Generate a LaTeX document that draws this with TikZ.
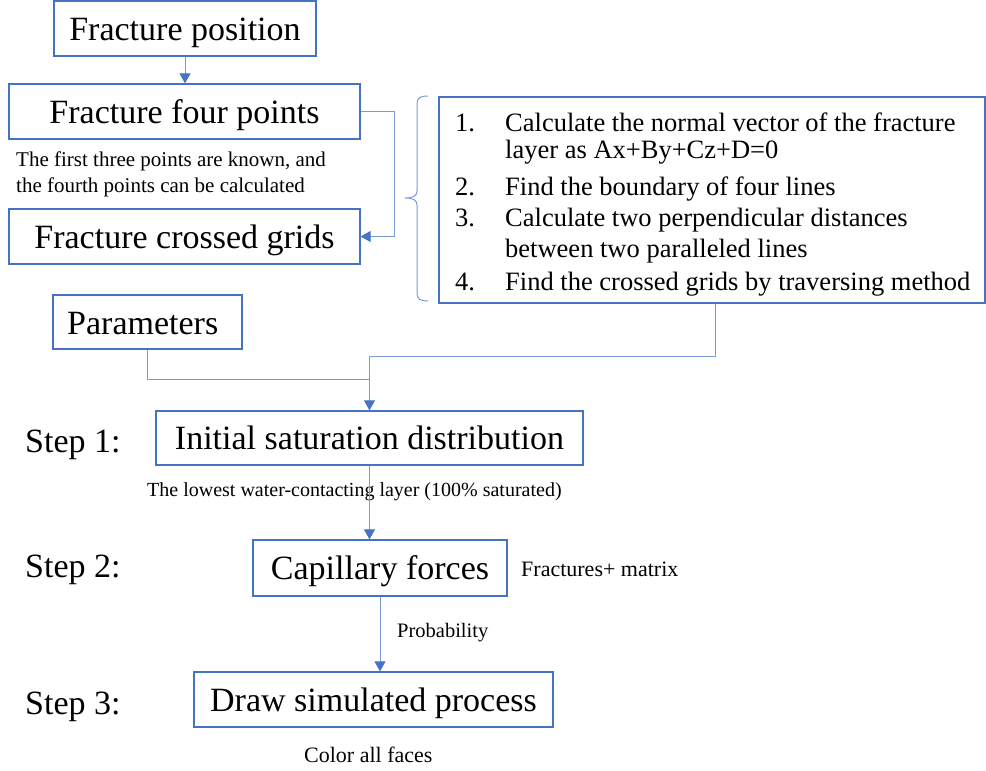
\documentclass[tikz,border=0pt]{standalone}
\usepackage{fontspec}
\setmainfont{Liberation Serif}
\usetikzlibrary{arrows.meta,calc}
\definecolor{boxblue}{HTML}{4472C4}
\definecolor{lineblue}{HTML}{7A9BD8}
\tikzset{
  box/.style={draw=boxblue, line width=1.3pt, inner sep=0pt, text height=23pt, text depth=0pt, font=\fontsize{34}{40}\selectfont},
  conn/.style={draw=lineblue, line width=1pt},
  arr/.style={conn, -{Triangle[length=10pt,width=11pt,fill=boxblue,color=boxblue]}},
  small/.style={inner sep=0pt, anchor=base west, font=\fontsize{21}{27}\selectfont},
  listtxt/.style={inner sep=0pt, anchor=base west, font=\fontsize{26.5}{31}\selectfont},
  steplbl/.style={inner sep=0pt, anchor=base west, font=\fontsize{34}{40}\selectfont},
}
\begin{document}
\begin{tikzpicture}[x=1pt,y=-1pt]
\useasboundingbox (0,0) rectangle (986,771);
% boxes
\node[box, minimum width=262, minimum height=55] (fp) at (185,28.5) {Fracture position};
\node[box, minimum width=351, minimum height=55] (f4) at (184.5,111.5) {Fracture four points};
\node[box, minimum width=351, minimum height=55] (fg) at (184.5,236.5) {Fracture crossed grids};
\node[box, minimum width=546, minimum height=206] (list) at (712,200) {};
\node[box, minimum width=189, minimum height=54] (par) at (147.5,322) {};
\node[inner sep=0pt, anchor=base west, font=\fontsize{34}{40}\selectfont] (partxt) at (67,334) {Parameters};
\node[box, minimum width=427, minimum height=54] (init) at (369.5,438) {Initial saturation distribution};
\node[box, minimum width=254, minimum height=56] (cap) at (380,568) {Capillary forces};
\node[box, minimum width=359, minimum height=55] (drw) at (373.5,699.5) {Draw simulated process};
% small notes
\node[small] (n1) at (16,166) {The first three points are known, and};
\node[small] (n2) at (16,192) {the fourth points can be calculated};
\node[small, font=\fontsize{20}{24}\selectfont] (n3) at (147,496) {The lowest water-contacting layer (100\% saturated)};
\node[small, font=\fontsize{22}{26}\selectfont] (n4) at (521,576) {Fractures+ matrix};
\node[small, font=\fontsize{20.5}{24}\selectfont] (n5) at (397,637) {Probability};
\node[small, font=\fontsize{22}{26}\selectfont] (n6) at (304,762) {Color all faces};
% step labels
\node[steplbl] (s1) at (25,452) {Step 1:};
\node[steplbl] (s2) at (25,577) {Step 2:};
\node[steplbl] (s3) at (25,714) {Step 3:};
% list contents
\node[listtxt] (l1n) at (455,131) {1.};
\node[listtxt] (l1a) at (505,131) {Calculate the normal vector of the fracture};
\node[listtxt] (l1b) at (505,158) {layer as Ax+By+Cz+D=0};
\node[listtxt] (l2n) at (455,195) {2.};
\node[listtxt] (l2a) at (505,195) {Find the boundary of four lines};
\node[listtxt] (l3n) at (455,226) {3.};
\node[listtxt] (l3a) at (505,226) {Calculate two perpendicular distances};
\node[listtxt] (l3b) at (505,257) {between two paralleled lines};
\node[listtxt] (l4n) at (455,290) {4.};
\node[listtxt] (l4a) at (505,290) {Find the crossed grids by traversing method};
% brace
\draw[conn] (428,96) .. controls (420,96) and (417,98) .. (417,104) -- (417,191)
  .. controls (417,196) and (413,198) .. (405,198)
  .. controls (413,198) and (417,200) .. (417,205) -- (417,293)
  .. controls (417,299) and (420,301) .. (428,301);
% connectors
\draw[arr] (fp.south) -- (fp.south |- f4.north);
\draw[arr] (f4.east) -- ++(34,0) |- (fg.east);
\coordinate (jn) at ($(init.north)+(0,-54)$);
\draw[arr] ($(list.south)+(3,0)$) |- (jn) -- (init.north);
\draw[conn] (par.south) |- ($(init.north)+(0,-31)$);
\draw[arr] (init.south) -- (init.south |- cap.north);
\draw[arr] (cap.south) -- (cap.south |- drw.north);
\end{tikzpicture}
\end{document}
